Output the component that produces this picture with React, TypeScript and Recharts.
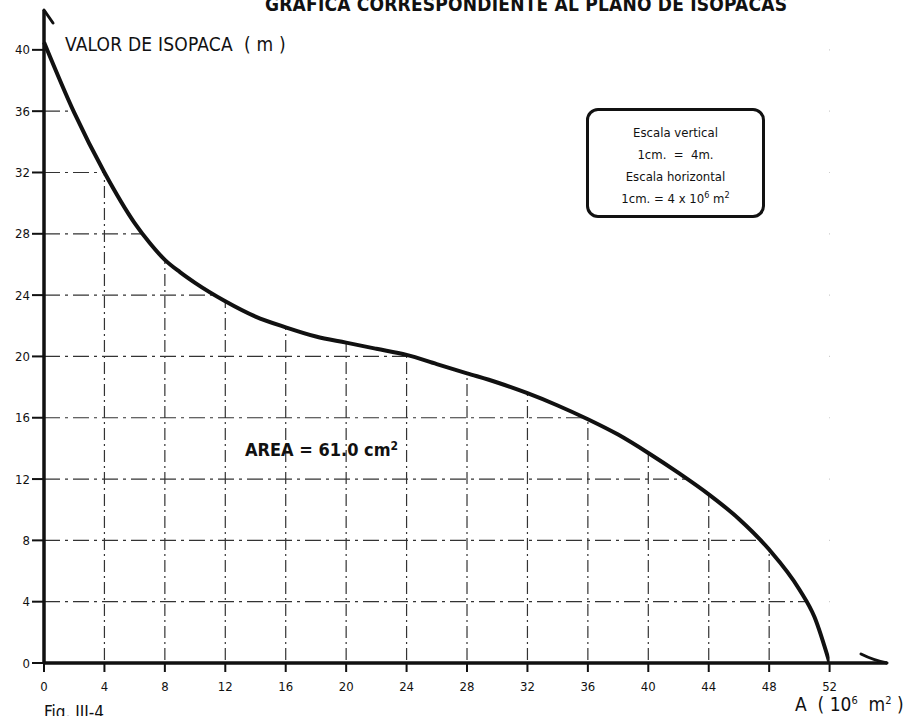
import React from 'react';
import { AreaChart, Area, XAxis, YAxis, CartesianGrid, ReferenceArea } from 'recharts';

// area (10^6 m2) and isopach thickness (m)
const areaValues = [0, 2, 4, 6, 7, 8, 9, 10, 12, 14, 16, 18, 20, 22, 24, 26, 28, 30, 32, 34, 36, 38, 40, 42, 44, 46, 48, 50, 51, 52];
const thickness = [40.5, 35.9, 32.0, 28.7, 27.4, 26.3, 25.5, 24.8, 23.6, 22.6, 21.9, 21.3, 20.9, 20.5, 20.1, 19.5, 18.9, 18.3, 17.6, 16.8, 15.9, 14.9, 13.7, 12.4, 11.0, 9.4, 7.4, 4.8, 3.0, 0];

const xTicks = [0, 4, 8, 12, 16, 20, 24, 28, 32, 36, 40, 44, 48, 52];
const yTicks = [0, 4, 8, 12, 16, 20, 24, 28, 32, 36, 40];
const gridX = xTicks.filter((t) => t > 0 && t < 52);
const gridY = yTicks.filter((t) => t > 0);

const legendLines = ['Escala vertical', '1cm.  =  4m.', 'Escala horizontal'];

const data = areaValues.map((a, i) => ({ a, v: thickness[i] }));

const FONT = "'DejaVu Sans Condensed', 'DejaVu Sans', sans-serif";
const INK = '#111';

const abs = (left: number, top: number, extra: React.CSSProperties = {}): React.CSSProperties => ({
  position: 'absolute',
  left,
  top,
  lineHeight: 1,
  whiteSpace: 'nowrap',
  fontFamily: FONT,
  color: INK,
  ...extra,
});

const tickStyle = { fill: INK, fontSize: 13, fontFamily: FONT };

export default function App() {
  return (
    <div style={{ position: 'absolute', left: 0, top: 0, width: 908, height: 716, overflow: 'hidden', background: '#fff' }}>
      <svg width={0} height={0} style={{ position: 'absolute' }}>
        <defs>
          <marker id="arrowUp" markerUnits="userSpaceOnUse" markerWidth={30} markerHeight={30} refX={0} refY={0} orient="0" overflow="visible">
            <path d="M0,0 L9,13" stroke={INK} strokeWidth={3} fill="none" strokeLinecap="round" />
          </marker>
          <marker id="arrowRight" markerUnits="userSpaceOnUse" markerWidth={30} markerHeight={30} refX={0} refY={0} orient="0" overflow="visible">
            <path d="M0,0 Q-14,-3 -26,-9" stroke={INK} strokeWidth={3} fill="none" strokeLinecap="round" />
          </marker>
        </defs>
      </svg>

      <AreaChart width={908} height={716} data={data} margin={{ top: 10, right: 21, left: 0, bottom: 0 }}>
        <CartesianGrid horizontal={false} verticalValues={gridX} stroke="#333" strokeWidth={1.2} strokeDasharray="12 4 2 4" />
        <CartesianGrid vertical={false} horizontalValues={gridY} stroke="#333" strokeWidth={1.2} strokeDasharray="16 5 3 5" />
        <Area
          type="monotone"
          dataKey="v"
          baseValue="dataMax"
          stroke={INK}
          strokeWidth={4}
          fill="#fff"
          fillOpacity={1}
          isAnimationActive={false}
          dot={false}
          activeDot={false}
        />
        <ReferenceArea x1={52} x2={55.8} y1={0} y2={42.6} fill="#fff" fillOpacity={1} stroke="none" />
        <XAxis
          type="number"
          dataKey="a"
          domain={[0, 55.8]}
          ticks={xTicks}
          height={53}
          tickSize={9}
          tickMargin={10}
          axisLine={{ stroke: INK, strokeWidth: 3.5, markerEnd: 'url(#arrowRight)' }}
          tickLine={{ stroke: INK, strokeWidth: 2 }}
          tick={tickStyle}
        />
        <YAxis
          type="number"
          domain={[0, 42.6]}
          ticks={yTicks}
          width={44}
          tickSize={12}
          tickMargin={2}
          axisLine={{ stroke: INK, strokeWidth: 3.5, markerStart: 'url(#arrowUp)' }}
          tickLine={{ stroke: INK, strokeWidth: 2 }}
          tick={tickStyle}
        />
      </AreaChart>

      <div style={abs(265, -5, { fontSize: 19, fontWeight: 'bold', letterSpacing: 0.2 })}>
        GRAFICA CORRESPONDIENTE AL PLANO DE ISOPACAS
      </div>
      <div style={abs(65, 35, { fontSize: 19, letterSpacing: 0.2 })}>VALOR DE ISOPACA&nbsp;&nbsp;( m )</div>
      <div style={abs(245, 440, { fontSize: 18, fontWeight: 'bold' })}>
        AREA = 61.0 cm<sup style={{ fontSize: 12, verticalAlign: 6 }}>2</sup>
      </div>
      <div style={abs(795, 695, { fontSize: 19 })}>
        A&nbsp;&nbsp;(&nbsp;10<sup style={{ fontSize: 11, verticalAlign: 7 }}>6</sup>&nbsp;&nbsp;m<sup style={{ fontSize: 11, verticalAlign: 7 }}>2</sup>&nbsp;)
      </div>
      <div style={abs(44, 704, { fontSize: 17 })}>Fig. III-4</div>

      <div
        style={{
          position: 'absolute',
          left: 586,
          top: 108,
          width: 179,
          height: 110,
          boxSizing: 'border-box',
          border: `3px solid ${INK}`,
          borderRadius: 12,
          paddingTop: 11,
          textAlign: 'center',
          fontFamily: FONT,
          fontSize: 13,
          color: INK,
        }}
      >
        {legendLines.map((t) => (
          <div key={t} style={{ lineHeight: '22px', whiteSpace: 'pre' }}>{t}</div>
        ))}
        <div style={{ lineHeight: '22px' }}>
          1cm. = 4 x 10<sup style={{ fontSize: 9, verticalAlign: 5, lineHeight: 0 }}>6</sup> m<sup style={{ fontSize: 9, verticalAlign: 5, lineHeight: 0 }}>2</sup>
        </div>
      </div>
    </div>
  );
}
